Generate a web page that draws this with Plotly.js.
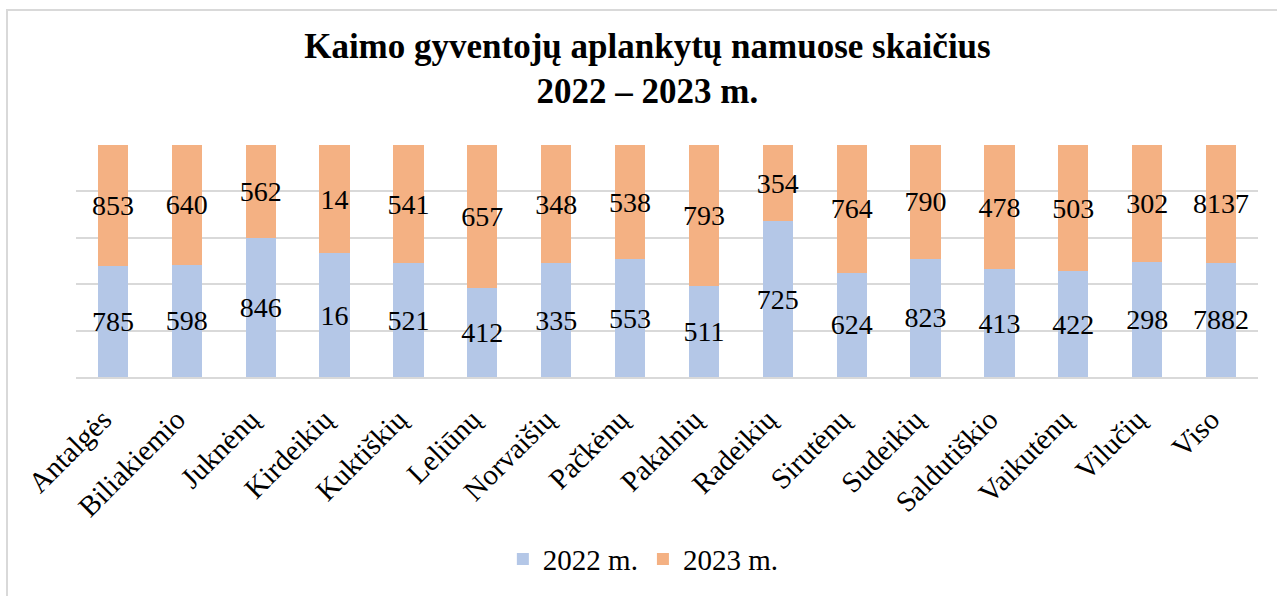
<!DOCTYPE html>
<html>
<head>
<meta charset="utf-8">
<script src="https://cdn.plot.ly/plotly-3.0.1.min.js"></script>
<style>
  html, body { margin: 0; padding: 0; background: #fff; overflow: hidden; }
  #chart { width: 1277px; height: 596px; }
  #frame { position: absolute; left: 6px; top: 9px; width: 1400px; height: 800px;
           border: 2px solid #d9d9d9; pointer-events: none; }
</style>
</head>
<body>
<div id="chart"></div>
<div id="frame"></div>
<script>
const categories = ["Antalgės", "Biliakiemio", "Juknėnų", "Kirdeikių", "Kuktiškių", "Leliūnų",
  "Norvaišių", "Pačkėnų", "Pakalnių", "Radeikių", "Sirutėnų", "Sudeikių", "Saldutiškio",
  "Vaikutėnų", "Vilučių", "Viso"];
const values2022 = [785, 598, 846, 16, 521, 412, 335, 553, 511, 725, 624, 823, 413, 422, 298, 7882];
const values2023 = [853, 640, 562, 14, 541, 657, 348, 538, 793, 354, 764, 790, 478, 503, 302, 8137];
const seriesNames = ["2022 m.", "2023 m."];

const FONT = 'Liberation Serif, Times New Roman, serif';

function barTrace(name, vals, color) {
  return {
    type: 'bar',
    name: name,
    x: categories,
    y: vals,
    text: vals.map(String),
    texttemplate: '%{text}',
    textposition: 'inside',
    insidetextanchor: 'middle',
    textangle: 0,
    constraintext: 'none',
    textfont: { family: FONT, size: 28, color: '#000' },
    insidetextfont: { family: FONT, size: 28, color: '#000' },
    marker: { color: color, line: { width: 0 } },
    hoverinfo: 'x+y+name'
  };
}

const data = [
  barTrace(seriesNames[0], values2022, '#b4c7e7'),
  barTrace(seriesNames[1], values2023, '#f4b183')
];

const layout = {
  width: 1277,
  height: 596,
  barmode: 'stack',
  barnorm: 'percent',
  bargap: 0.59,
  paper_bgcolor: '#fff',
  plot_bgcolor: '#fff',
  margin: { l: 76, r: 19, t: 145, b: 215 },
  font: { family: FONT, color: '#000' },
  title: {
    text: '<b>Kaimo gyventojų aplankytų namuose skaičius<br>2022 – 2023 m.</b>',
    font: { family: FONT, size: 35, color: '#000' },
    x: 0.507,
    xanchor: 'center',
    y: 0.903,
    yanchor: 'top'
  },
  xaxis: {
    type: 'category',
    tickangle: -45,
    tickfont: { family: FONT, size: 29, color: '#000' },
    showgrid: false,
    showline: true,
    linecolor: '#d9d9d9',
    linewidth: 2,
    ticks: '',
    ticklabelstandoff: 12,
    ticklabelshift: -10
  },
  yaxis: {
    range: [0, 100],
    dtick: 20,
    showticklabels: false,
    showgrid: true,
    gridcolor: '#d9d9d9',
    gridwidth: 2,
    zeroline: false,
    ticks: ''
  },
  legend: {
    orientation: 'h',
    x: 0.480,
    xanchor: 'center',
    y: -0.785,
    yanchor: 'middle',
    font: { family: FONT, size: 29, color: '#000' },
    itemwidth: 30,
    traceorder: 'normal'
  },
  showlegend: true
};

Plotly.newPlot('chart', data, layout, { displayModeBar: false, staticPlot: true });
</script>
</body>
</html>
